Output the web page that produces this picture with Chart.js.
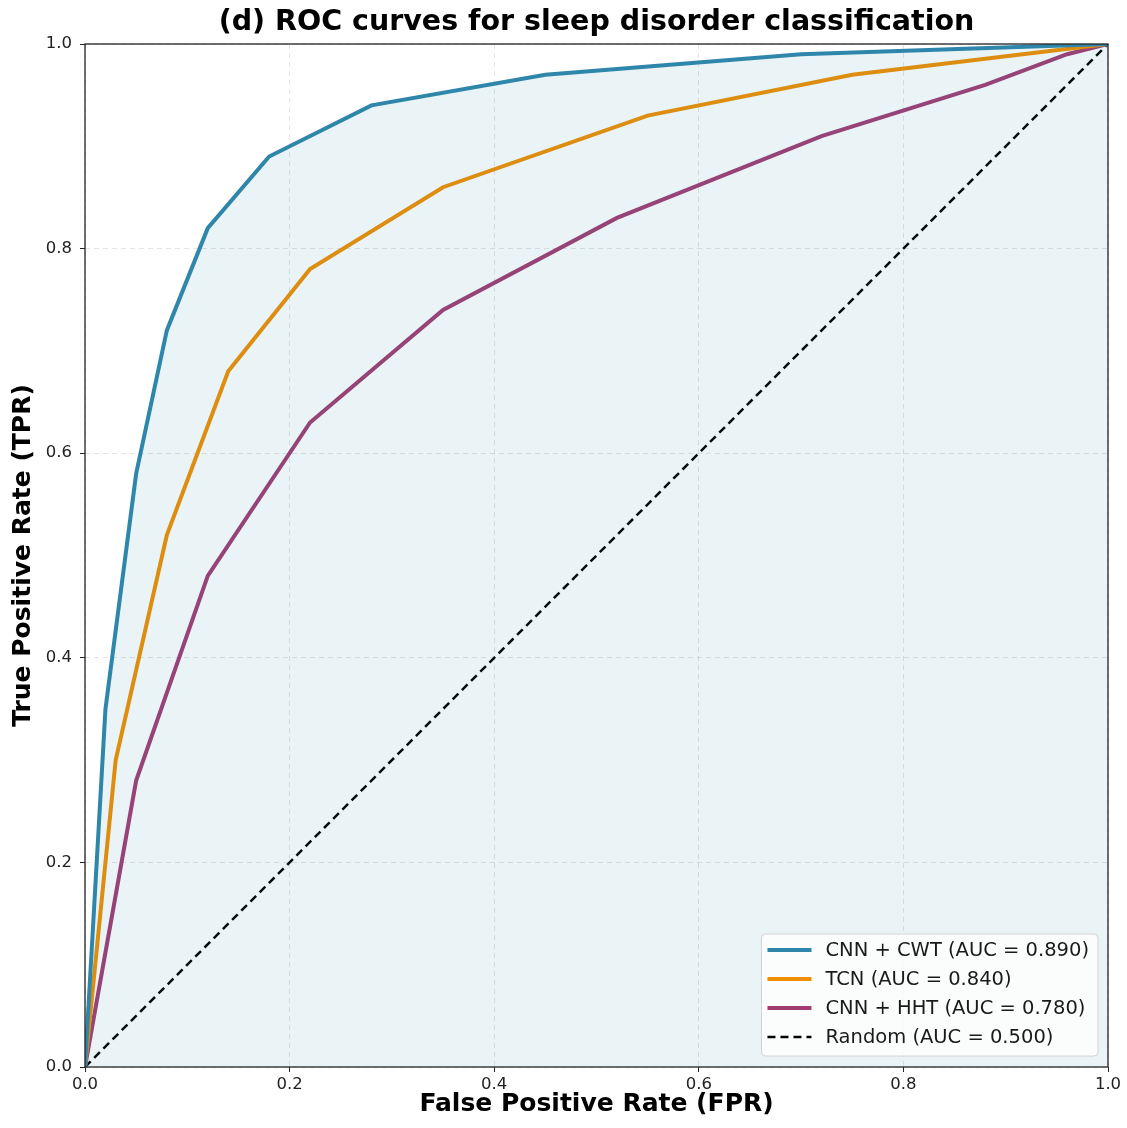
<!DOCTYPE html>
<html>
<head>
<meta charset="utf-8">
<script src="https://cdn.jsdelivr.net/npm/chart.js@4.4.0/dist/chart.umd.min.js"></script>
<style>
  html, body { margin: 0; padding: 0; background: #fff; }
  #roc { display: block; }
</style>
</head>
<body>
<canvas id="roc" width="1127" height="1128"></canvas>
<script>
// --- datos ---
const cwtFpr = [0, 0.02, 0.05, 0.08, 0.12, 0.18, 0.28, 0.45, 0.70, 1.0];
const cwtTpr = [0, 0.35, 0.58, 0.72, 0.82, 0.89, 0.94, 0.97, 0.99, 1.0];
const tcnFpr = [0, 0.03, 0.08, 0.14, 0.22, 0.35, 0.55, 0.75, 1.0];
const tcnTpr = [0, 0.30, 0.52, 0.68, 0.78, 0.86, 0.93, 0.97, 1.0];
const hhtFpr = [0, 0.05, 0.12, 0.22, 0.35, 0.52, 0.72, 0.88, 0.96, 1.0];
const hhtTpr = [0, 0.28, 0.48, 0.63, 0.74, 0.83, 0.91, 0.96, 0.99, 1.0];
const randFpr = [0, 1];
const randTpr = [0, 1];
const seriesLabels = ['CNN + CWT (AUC = 0.890)', 'TCN (AUC = 0.840)', 'CNN + HHT (AUC = 0.780)', 'Random (AUC = 0.500)'];
const tickValues = [0, 0.2, 0.4, 0.6, 0.8, 1.0];
const chartTitle = '(d) ROC curves for sleep disorder classification';

const toPoints = (xs, ys) => xs.map((x, i) => ({ x: x, y: ys[i] }));
const FONT = "'DejaVu Sans', sans-serif";

// fondo blanco, titulo centrado sobre el area y marco completo
const framePlugin = {
    id: 'frame',
    beforeDraw(chart) {
        const c = chart.ctx;
        c.save();
        c.fillStyle = '#fff';
        c.fillRect(0, 0, chart.width, chart.height);
        c.restore();
    },
    afterDatasetsDraw(chart) {
        const a = chart.chartArea, c = chart.ctx;
        c.save();
        c.strokeStyle = '#222';
        c.lineWidth = 1.3;
        c.strokeRect(a.left, a.top, a.right - a.left, a.bottom - a.top);
        c.restore();
    },
    afterDraw(chart) {
        const a = chart.chartArea, c = chart.ctx;
        c.save();
        c.font = 'bold 28.5px ' + FONT;
        c.fillStyle = '#000';
        c.textAlign = 'center';
        c.textBaseline = 'middle';
        c.fillText(chartTitle, (a.left + a.right) / 2, 23);
        c.restore();
    }
};

// leyenda dentro del grafico, abajo a la derecha
const legendPlugin = {
    id: 'insideLegend',
    afterDraw(chart) {
        const c = chart.ctx, a = chart.chartArea;
        const ds = chart.data.datasets;
        c.save();
        c.font = '19.5px ' + FONT;
        let maxW = 0;
        ds.forEach(d => { maxW = Math.max(maxW, c.measureText(d.label).width); });
        const rowH = 29;
        const w = 64 + maxW + 9;
        const h = 122;
        const x0 = a.right - 10 - w;
        const y0 = a.bottom - 11 - h;
        c.fillStyle = 'rgba(255,255,255,0.8)';
        c.strokeStyle = '#d4d4d4';
        c.lineWidth = 1;
        c.beginPath();
        c.roundRect(x0, y0, w, h, 4);
        c.fill();
        c.stroke();
        ds.forEach((d, i) => {
            const cy = y0 + 16 + rowH * i;
            c.strokeStyle = d.borderColor;
            c.lineWidth = d.borderWidth;
            c.setLineDash(d.borderDash || []);
            c.beginPath();
            c.moveTo(x0 + 6, cy);
            c.lineTo(x0 + 50, cy);
            c.stroke();
            c.setLineDash([]);
            c.fillStyle = '#1a1a1a';
            c.textBaseline = 'middle';
            c.fillText(d.label, x0 + 64, cy + 1);
        });
        c.restore();
    }
};

const gridOpts = {
    color: 'rgba(170,170,170,0.3)',
    tickColor: '#222',
    tickLength: 5,
    lineWidth: 1
};

new Chart(document.getElementById('roc'), {
    type: 'line',
    data: {
        datasets: [
            {
                label: seriesLabels[0], data: toPoints(cwtFpr, cwtTpr),
                borderColor: '#2E86AB', borderWidth: 4,
                fill: 'origin', backgroundColor: 'rgba(46,134,171,0.1)'
            },
            {
                label: seriesLabels[1], data: toPoints(tcnFpr, tcnTpr),
                borderColor: '#F18F01', borderWidth: 4, fill: false
            },
            {
                label: seriesLabels[2], data: toPoints(hhtFpr, hhtTpr),
                borderColor: '#A23B72', borderWidth: 4, fill: false
            },
            {
                label: seriesLabels[3], data: toPoints(randFpr, randTpr),
                borderColor: '#000', borderWidth: 2.5, borderDash: [8, 5], fill: false
            }
        ]
    },
    options: {
        responsive: false,
        animation: false,
        elements: { point: { radius: 0 }, line: { tension: 0 } },
        layout: { padding: { left: 0, right: 19, top: 44, bottom: 0 } },
        plugins: {
            legend: { display: false },
            tooltip: { enabled: false },
            title: { display: false }
        },
        scales: {
            x: {
                type: 'linear', min: 0, max: 1,
                afterBuildTicks: s => { s.ticks = tickValues.map(v => ({ value: v })); },
                afterFit: s => { s.height = 61; },
                grid: gridOpts,
                border: { display: false, dash: [5, 4] },
                ticks: {
                    color: '#222', padding: 3,
                    font: { family: FONT, size: 16.5 },
                    callback: v => Number(v).toFixed(1)
                },
                title: {
                    display: true, text: 'False Positive Rate (FPR)', color: '#000',
                    font: { family: FONT, size: 25, weight: 'bold' },
                    padding: { top: 0, bottom: 9 }
                }
            },
            y: {
                type: 'linear', min: 0, max: 1,
                afterBuildTicks: s => { s.ticks = tickValues.map(v => ({ value: v })); },
                afterFit: s => { s.width = 85; },
                grid: gridOpts,
                border: { display: false, dash: [5, 4] },
                ticks: {
                    color: '#222', padding: 8,
                    font: { family: FONT, size: 16.5 },
                    callback: v => Number(v).toFixed(1)
                },
                title: {
                    display: true, text: 'True Positive Rate (TPR)', color: '#000',
                    font: { family: FONT, size: 25, weight: 'bold' },
                    padding: { top: 8, bottom: 0 }
                }
            }
        }
    },
    plugins: [framePlugin, legendPlugin]
});
</script>
</body>
</html>
